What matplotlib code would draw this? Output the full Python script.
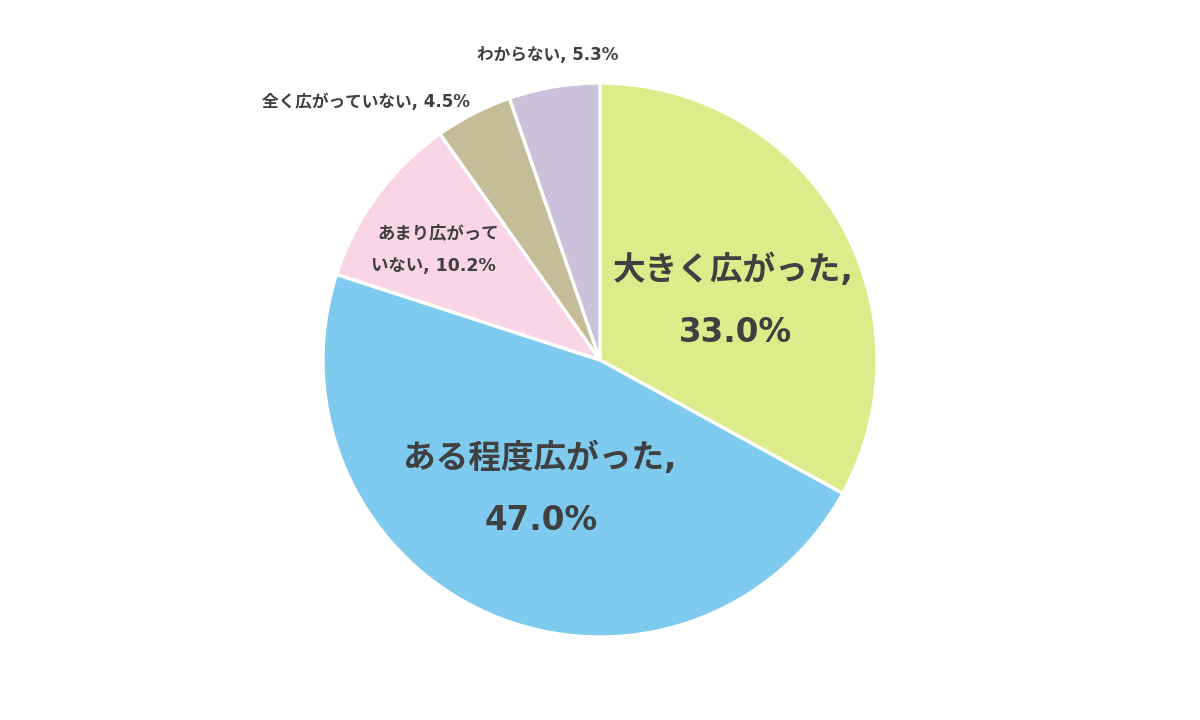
import matplotlib.pyplot as plt

# Latin glyphs from DejaVu (Verdana-like, as in the reference), kana/kanji from Noto CJK
plt.rcParams['font.family'] = ['DejaVu Sans', 'Noto Sans CJK JP']

# data, clockwise from 12 o'clock
labels = ['大きく広がった', 'ある程度広がった', 'あまり広がっていない', '全く広がっていない', 'わからない']
values = [33.0, 47.0, 10.2, 4.5, 5.3]
colors = ['#dcec8a', '#7ecbef', '#f9d5e5', '#c4bd97', '#ccc1da']

W, H = 1200, 720
fig = plt.figure(figsize=(12, 7.2), dpi=100)
cx, cy, R = 600, 360, 277
ax = fig.add_axes([(cx - R) / W, (H - cy - R) / H, 2 * R / W, 2 * R / H])
ax.pie(values, colors=colors, startangle=90, counterclock=False,
       wedgeprops=dict(edgecolor='white', linewidth=2.4), radius=1)
ax.set_xlim(-1, 1)
ax.set_ylim(-1, 1)
ax.set_aspect('equal')
ax.axis('off')

tc = '#404040'

def px(x, y):
    # pixel position -> data coords of pie axes
    return (x - cx) / R, (cy - y) / R

def put(x, y, s, size):
    ax.text(*px(x, y), s, ha='center', va='center', fontsize=size,
            fontweight='bold', color=tc)

# big labels
put(733, 270, labels[0] + ',', 23.5)
put(735, 333, f'{values[0]:.1f}%', 23.5)
put(540, 458, labels[1] + ',', 23.5)
put(541, 521, f'{values[1]:.1f}%', 23.5)

# smaller labels
put(438, 233, labels[2][:7], 12.5)
put(433, 266, labels[2][7:] + f', {values[2]:.1f}%', 12.5)
put(366, 102, labels[3] + f', {values[3]:.1f}%', 12)
put(548, 55, labels[4] + f', {values[4]:.1f}%', 12)

fig.savefig('out.png', dpi=100, facecolor='white')
